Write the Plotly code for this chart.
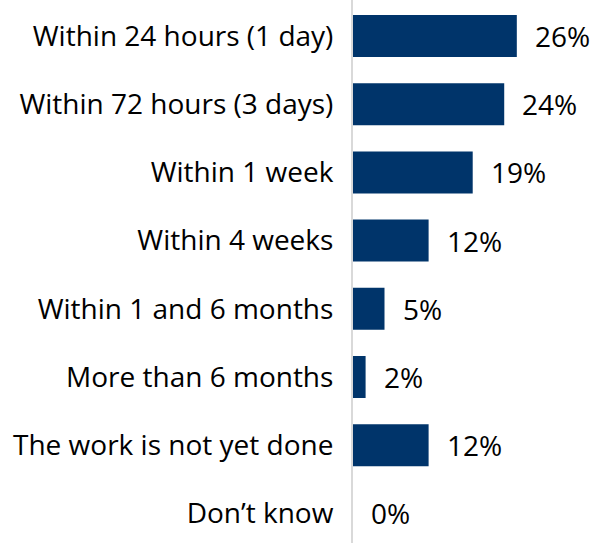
import plotly.graph_objects as go

categories = [
    "Within 24 hours (1 day)",
    "Within 72 hours (3 days)",
    "Within 1 week",
    "Within 4 weeks",
    "Within 1 and 6 months",
    "More than 6 months",
    "The work is not yet done",
    "Don\u2019t know",
]
values = [26, 24, 19, 12, 5, 2, 12, 0]
value_labels = [f"{v}%" for v in values]

FONT = "Open Sans"
FS = 28
BAR_COLOR = "#00346A"

fig = go.Figure()
fig.add_trace(go.Bar(
    x=values,
    y=categories,
    orientation="h",
    marker=dict(color=BAR_COLOR, line=dict(width=0)),
    width=0.616,
    hoverinfo="skip",
))

for v, c, t in zip(values, categories, value_labels):
    fig.add_annotation(
        x=v, y=c, text=t, showarrow=False,
        xanchor="left", yanchor="middle", xshift=16,
        font=dict(family=FONT, size=FS, color="#000000"),
    )

fig.update_layout(
    width=594, height=543,
    margin=dict(l=353, r=0, t=0, b=0),
    paper_bgcolor="white", plot_bgcolor="white",
    showlegend=False,
    font=dict(family=FONT, size=FS, color="#000000"),
)
fig.update_xaxes(
    range=[0, 38.25], visible=False, showgrid=False, zeroline=False,
)
fig.update_yaxes(
    type="category",
    categoryorder="array", categoryarray=categories,
    range=[7.434, -0.528],
    showline=True, linecolor="#d9d9d9", linewidth=2,
    showgrid=False, zeroline=False,
    ticks="", ticklabelstandoff=12,
    tickfont=dict(family=FONT, size=FS, color="#000000"),
)

fig.write_html("out.html")
